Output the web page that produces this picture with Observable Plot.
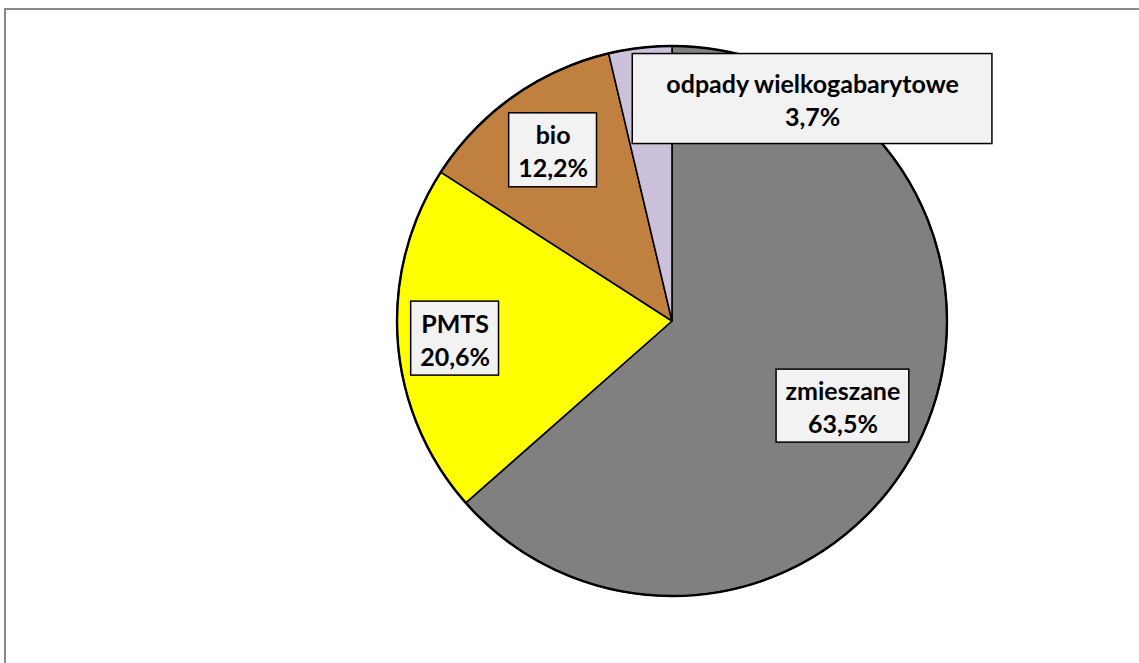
<!DOCTYPE html>
<html><head><meta charset="utf-8">
<script src="https://cdn.jsdelivr.net/npm/d3@7"></script>
<script src="https://cdn.jsdelivr.net/npm/@observablehq/plot@0.6"></script>
<style>
html,body{margin:0;padding:0;background:#fff;overflow:hidden;width:1139px;height:663px;}
#frame{position:absolute;left:4px;top:8px;width:1300px;height:800px;border-top:2px solid #898989;border-left:2px solid #898989;box-sizing:border-box;}
#chart{position:absolute;left:0;top:0;}
</style></head><body>
<div id="frame"></div>
<div id="chart"></div>
<script>
// ---- data ----
const categories = ["zmieszane", "PMTS", "bio", "odpady wielkogabarytowe"];
const shares = [63.5, 20.6, 12.2, 3.7];
const shareLabels = ["63,5%", "20,6%", "12,2%", "3,7%"];
const sliceColors = ["#808080", "#FFFF00", "#C0803F", "#CCC1DA"];

// ---- layout (styles / label placement) ----
const W = 1139, H = 663, CX = 672, CY = 321, R = 275;
const labelAngle = [116.4, 265.5, 325.1, 32.2];   // degrees clockwise from top
const labelRadius = [0.692, 0.793, 0.759, 0.956]; // fraction of radius
const padX = [9, 9, 9, 33], boxH = [73, 74, 74, 90];
const FONT = "Lato", FS = 25;

const table = categories.map((c, i) => ({cat: c, share: shares[i], lab: shareLabels[i], color: sliceColors[i]}));
const arcs = d3.pie().sort(null).value(d => d.share)(table);

const ctx = document.createElement("canvas").getContext("2d");
ctx.font = `bold ${FS}px ${FONT}`;
const labels = table.map((d, i) => {
  const a = labelAngle[i] * Math.PI / 180, f = labelRadius[i];
  const w = Math.max(ctx.measureText(d.cat).width, ctx.measureText(d.lab).width) + 2 * padX[i];
  const x = f * Math.sin(a), y = f * Math.cos(a);
  const hw = w / 2 / R, hh = boxH[i] / 2 / R;
  return {...d, x, y, x1: x - hw, x2: x + hw, y1: y - hh, y2: y + hh};
});

function pieMark(index, scales) {
  const sx = scales.x, sy = scales.y;
  const cx = sx(0), cy = sy(0), r = sx(1) - sx(0);
  const g = d3.create("svg:g").attr("transform", `translate(${cx},${cy})`);
  const arc = d3.arc().innerRadius(0).outerRadius(r);
  g.selectAll("path").data(arcs).join("path")
    .attr("d", arc).attr("fill", d => d.data.color)
    .attr("stroke", "#000").attr("stroke-width", 1.6).attr("stroke-linejoin", "round");
  g.append("circle").attr("r", r).attr("fill", "none").attr("stroke", "#000").attr("stroke-width", 2.4);
  return g.node();
}

const chart = Plot.plot({
  width: W, height: H,
  marginTop: 0, marginRight: 0, marginBottom: 0, marginLeft: 0,
  x: {domain: [-CX / R, (W - CX) / R], axis: null},
  y: {domain: [-(H - CY) / R, CY / R], axis: null},
  style: {background: "transparent", overflow: "visible"},
  marks: [
    Plot.dot([{x: 0, y: 0}], {x: "x", y: "y", r: 0, stroke: "none"}),
    pieMark,
    Plot.rect(labels, {x1: "x1", x2: "x2", y1: "y1", y2: "y2", fill: "#F2F2F2", stroke: "#000", strokeWidth: 1.5}),
    Plot.text(labels, {x: "x", y: "y", text: d => d.cat + "\n" + d.lab, fontSize: FS, fontWeight: "bold",
      fontFamily: FONT, fill: "#000", lineHeight: 33 / FS, lineAnchor: "middle", textAnchor: "middle"})
  ]
});
document.getElementById("chart").appendChild(chart);
</script>
</body></html>
